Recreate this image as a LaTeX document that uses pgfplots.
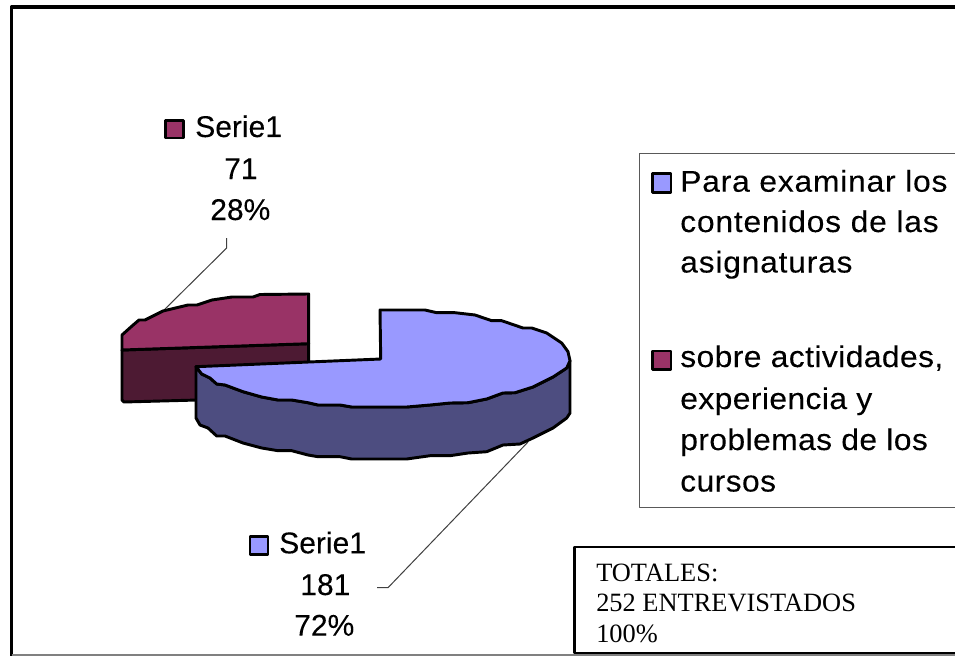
\documentclass[border=0pt]{standalone}
\usepackage{pgfplots}
\pgfplotsset{compat=1.18}
\usepackage{fontspec}
\setmainfont[FakeBold=0.12]{Liberation Sans}
\newfontfamily\timesf{Liberation Serif}
\newfontfamily\lega[FakeStretch=1.06,LetterSpace=2.6,FakeBold=0.12]{Liberation Sans}
\newfontfamily\legb[FakeStretch=1.06,LetterSpace=1.4,FakeBold=0.12]{Liberation Sans}
\definecolor{lav}{HTML}{9999FF}
\definecolor{lavd}{HTML}{4D4D80}
\definecolor{plum}{HTML}{993366}
\definecolor{plumd}{HTML}{4D1A33}
\newcommand{\lab}{\fontsize{22.5}{27}\selectfont}
\newcommand{\tot}{\fontsize{19.8}{24}\timesf\selectfont}
\tikzset{tnode/.style={anchor=base west, inner sep=0pt, text=black}}
\begin{document}
\begin{tikzpicture}
\begin{axis}[
  scale only axis, width=716.25pt, height=492pt,
  xmin=0, xmax=955, ymin=0, ymax=656, y dir=reverse, hide axis,
  every axis plot/.append style={line join=round},
]
% page background, which also fixes the picture's extent
\addplot[fill=white, draw=none, no markers] coordinates {(0,0) (955,0) (955,656) (0,656)} -- cycle;

% outer frame
\addplot[black, line width=2.3pt, no markers] coordinates {(955,7) (11.5,7) (11.5,656)};
\addplot[black!50, line width=1.3pt, no markers] coordinates {(11.5,655) (955,655)};

% leader lines
\addplot[black!75, line width=0.75pt, no markers] coordinates {(163,311) (226.7,248) (226.7,238)};
\addplot[black!75, line width=0.75pt, no markers] coordinates {(528,442) (388,587.7) (377,587.7)};

% second slice: side and top
\addplot[fill=plumd, draw=black, line width=2.2pt, no markers] coordinates {
 (122,350) (122,400) (124,402) (308.7,397) (308.7,343.7)} -- cycle;
\addplot[fill=plum, draw=black, line width=2.2pt, no markers] coordinates {
 (308.7,294) (260,294.5) (253,297) (232,297) (212,300) (197,305) (188,305) (163,311)
 (145,320) (139,320) (132,326) (122,335) (122,350) (308.7,343.7)} -- cycle;

% first slice: side and top
\addplot[fill=lavd, draw=black, line width=2.2pt, no markers] coordinates {
 (196,366.7) (196,418) (200,425) (208,428) (216.7,436) (225,436) (243,443) (261.7,448)
 (278,450.7) (291.7,450.7) (308,455) (318,456.7) (340,456.7) (351.7,459) (406.7,459)
 (430,455.7) (450,455.7) (468,453) (486.7,451.7) (503,445) (520,444) (533,438)
 (553,428) (566.7,418) (570,413) (570,360.7)
 (566.7,368) (553,377) (533,387) (515,392.7) (503,393) (486.7,399) (468,402.7) (450,403)
 (430,405) (406.7,407) (351.7,407) (340,405) (318,405) (308,402.7) (291.7,400) (278,400)
 (261.7,397) (243,391.7) (225,385) (216.7,384) (210,378) (201.7,374)} -- cycle;
\addplot[fill=lav, draw=black, line width=2.2pt, no markers] coordinates {
 (380.7,359) (380,310) (425,310) (436.7,312.7) (455,312.7) (475,315) (491.7,320.7)
 (501.7,320.7) (523,328) (531.7,328) (546.7,333) (561.7,343) (568,351.7) (570,360.7)
 (566.7,368) (553,377) (533,387) (515,392.7) (503,393) (486.7,399) (468,402.7) (450,403)
 (430,405) (406.7,407) (351.7,407) (340,405) (318,405) (308,402.7) (291.7,400) (278,400)
 (261.7,397) (243,391.7) (225,385) (216.7,384) (210,378) (201.7,374) (196,366.7)} -- cycle;

% legend box
\addplot[black!65, line width=1.2pt, no markers] coordinates {(955,153.5) (639.5,153.5) (639.5,507.5) (955,507.5)};
\addplot[fill=lav, draw=black, line width=1.7pt, no markers] coordinates {(652.5,173.5) (671,173.5) (671,192.5) (652.5,192.5)} -- cycle;
\addplot[fill=plum, draw=black, line width=1.7pt, no markers] coordinates {(652.5,351) (671,351) (671,369.5) (652.5,369.5)} -- cycle;

% data-label keys
\addplot[fill=lav, draw=black, line width=1.7pt, no markers] coordinates {(250,536.5) (268,536.5) (268,554.5) (250,554.5)} -- cycle;
\addplot[fill=plum, draw=black, line width=1.7pt, no markers] coordinates {(165.5,120.5) (183.5,120.5) (183.5,138) (165.5,138)} -- cycle;

% totals box
\addplot[black, line width=1.7pt, no markers] coordinates {(955,546.7) (574.5,546.7) (574.5,653) (955,653)};

% texts
\node[tnode] at (axis cs:680,191.7) {\lega\lab Para examinar los};
\node[tnode] at (axis cs:680,232) {\lega\lab contenidos de las};
\node[tnode] at (axis cs:680,272.5) {\lega\lab asignaturas};
\node[tnode] at (axis cs:680,367) {\legb\lab sobre actividades,};
\node[tnode] at (axis cs:680,409) {\legb\lab experiencia y};
\node[tnode] at (axis cs:680,450) {\legb\lab problemas de los};
\node[tnode] at (axis cs:680,491.5) {\legb\lab cursos};

\node[tnode] at (axis cs:279,553.3) {\lab Serie1};
\node[tnode] at (axis cs:300,595) {\lab 181};
\node[tnode] at (axis cs:294,635.7) {\lab 72\%};
\node[tnode] at (axis cs:195,137) {\lab Serie1};
\node[tnode] at (axis cs:224,179) {\lab 71};
\node[tnode] at (axis cs:210,220) {\lab 28\%};

\node[tnode] at (axis cs:596,581.7) {\tot TOTALES:};
\node[tnode] at (axis cs:596,611.7) {\tot 252 ENTREVISTADOS};
\node[tnode] at (axis cs:596,642.7) {\tot 100\%};
\end{axis}
\end{tikzpicture}
\end{document}
